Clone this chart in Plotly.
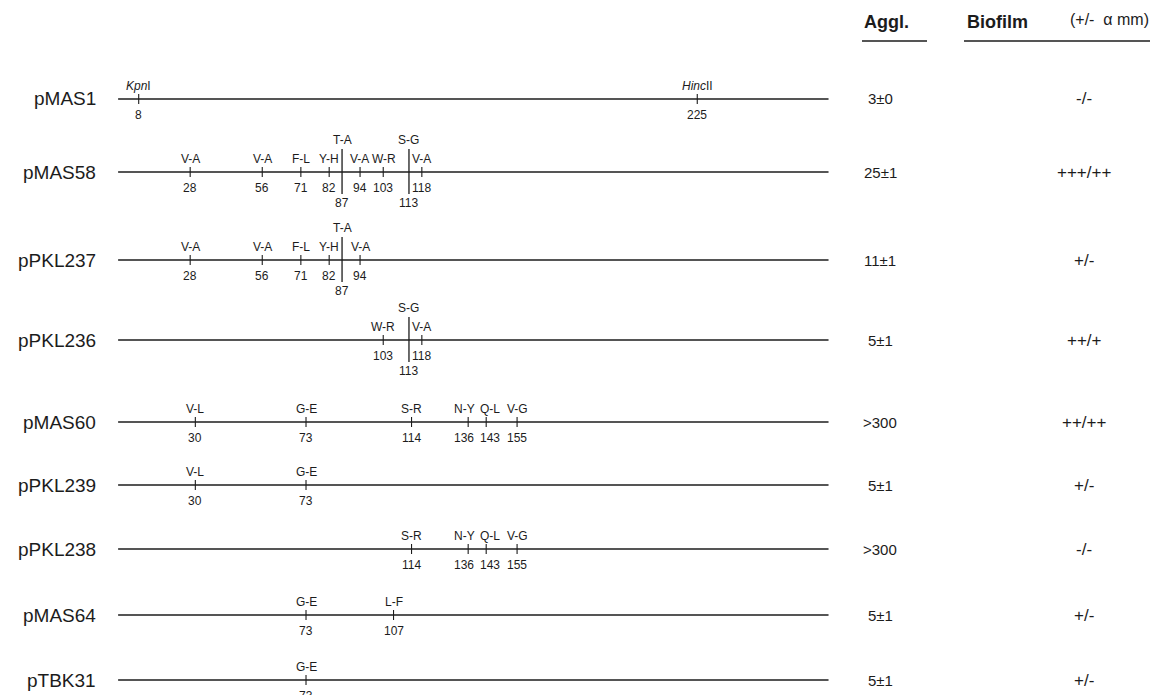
import plotly.graph_objects as go

# ---- data -------------------------------------------------------------
constructs = ["pMAS1", "pMAS58", "pPKL237", "pPKL236", "pMAS60",
              "pPKL239", "pPKL238", "pMAS64", "pTBK31"]

# amino-acid substitutions (change, residue position) per construct
pMAS58_changes = ["V-A", "V-A", "F-L", "Y-H", "T-A", "V-A", "W-R", "S-G", "V-A"]
pMAS58_sites = [28, 56, 71, 82, 87, 94, 103, 113, 118]
pPKL237_changes = ["V-A", "V-A", "F-L", "Y-H", "T-A", "V-A"]
pPKL237_sites = [28, 56, 71, 82, 87, 94]
pPKL236_changes = ["W-R", "S-G", "V-A"]
pPKL236_sites = [103, 113, 118]
pMAS60_changes = ["V-L", "G-E", "S-R", "N-Y", "Q-L", "V-G"]
pMAS60_sites = [30, 73, 114, 136, 143, 155]
pPKL239_changes = ["V-L", "G-E"]
pPKL239_sites = [30, 73]
pPKL238_changes = ["S-R", "N-Y", "Q-L", "V-G"]
pPKL238_sites = [114, 136, 143, 155]
pMAS64_changes = ["G-E", "L-F"]
pMAS64_sites = [73, 107]
pTBK31_changes = ["G-E"]
pTBK31_sites = [73]

# restriction sites on the parental construct
enzymes = ["<i>Kpn</i>I", "<i>Hinc</i>II"]
enzyme_sites = [8, 225]

# insert extent (residues)
insert_start = 0
insert_end = 276

aggl = ["3±0", "25±1", "11±1", "5±1", ">300", "5±1", ">300", "5±1", "5±1"]
biofilm = ["-/-", "+++/++", "+/-", "++/+", "++/++", "+/-", "-/-", "+/-", "+/-"]

mutations = [
    ([], []),
    (pMAS58_changes, pMAS58_sites),
    (pPKL237_changes, pPKL237_sites),
    (pPKL236_changes, pPKL236_sites),
    (pMAS60_changes, pMAS60_sites),
    (pPKL239_changes, pPKL239_sites),
    (pPKL238_changes, pPKL238_sites),
    (pMAS64_changes, pMAS64_sites),
    (pTBK31_changes, pTBK31_sites),
]
# substitutions whose labels are set on a raised second tier
raised = {87, 113}

# ---- layout -----------------------------------------------------------
W, H = 1154, 695
row_y = [99, 172, 260, 340, 422, 485, 549, 615, 680]
FONT = "Arial, Liberation Sans, sans-serif"
INK = "#1c1c1c"
SMALL = 12

# pixel = 138.7 + (residue - 8) * 2.574
scale = 2.574
x_lo = 8 - 138.7 / scale
x_hi = 8 + (W - 138.7) / scale

CHAR_W = {"-": 0.333, "1": 0.556, "I": 0.278, "W": 0.944, "M": 0.833,
          "N": 0.722, "Q": 0.778, "G": 0.778}


def text_w(s, size):
    s = s.replace("<i>", "").replace("</i>", "")
    return sum(CHAR_W.get(c, 0.64) for c in s) * size


def spread(xs, widths, gap=4.0):
    """Push neighbouring labels apart (data units) so they do not overlap."""
    xs = list(xs)
    order = sorted(range(len(xs)), key=lambda i: xs[i])
    for _ in range(30):
        moved = False
        for a, b in zip(order, order[1:]):
            need = ((widths[a] + widths[b]) / 2 + gap) / scale
            d = xs[b] - xs[a]
            if d < need - 1e-6:
                push = (need - d) / 2
                xs[a] -= push
                xs[b] += push
                moved = True
        if not moved:
            break
    return xs


def px(x):
    return x / W


def py(y):
    return 1 - y / H


fig = go.Figure()

# backbone lines
bx, by = [], []
for y in row_y:
    bx += [insert_start, insert_end, None]
    by += [y, y, None]
fig.add_trace(go.Scatter(x=bx, y=by, mode="lines",
                         line=dict(color=INK, width=1.3), hoverinfo="skip"))

annotations = []
sx, sy, tx, ty = [], [], [], []


def label(x, y, text, size=SMALL):
    annotations.append(dict(x=x, y=py(y), xref="x", yref="paper", text=text,
                            showarrow=False, xanchor="center",
                            yanchor="middle",
                            font=dict(family=FONT, size=size, color=INK)))


def draw_row(names, sites, y):
    low = [i for i, s in enumerate(sites) if s not in raised]
    high = [i for i, s in enumerate(sites) if s in raised]
    for i in low:
        sx.extend([sites[i], sites[i], None]); sy.extend([y - 5, y + 5, None])
    for i in high:
        tx.extend([sites[i], sites[i], None]); ty.extend([y - 23, y + 22, None])
    # lower tier labels, spaced so they stay legible
    top_x = spread([sites[i] for i in low],
                   [text_w(names[i], SMALL) for i in low])
    bot_x = spread([sites[i] for i in low],
                   [text_w(str(sites[i]), SMALL) for i in low])
    for k, i in enumerate(low):
        label(top_x[k], y - 13, names[i])
        label(bot_x[k], y + 16, str(sites[i]))
    for i in high:
        label(sites[i], y - 32, names[i])
        label(sites[i], y + 31, str(sites[i]))


draw_row(enzymes, enzyme_sites, row_y[0])
for (changes, sites), y in zip(mutations, row_y):
    if sites:
        draw_row(changes, sites, y)

fig.add_trace(go.Scatter(x=sx, y=sy, mode="lines",
                         line=dict(color=INK, width=1.1), hoverinfo="skip"))
fig.add_trace(go.Scatter(x=tx, y=ty, mode="lines",
                         line=dict(color=INK, width=1.3), hoverinfo="skip"))

for name, a, b, y in zip(constructs, aggl, biofilm, row_y):
    annotations.append(dict(x=px(98), y=py(y), xref="paper", yref="paper",
                            text=name, showarrow=False, xanchor="right",
                            yanchor="middle",
                            font=dict(family=FONT, size=19, color=INK)))
    annotations.append(dict(x=px(880), y=py(y), xref="paper", yref="paper",
                            text=a, showarrow=False, xanchor="center",
                            yanchor="middle",
                            font=dict(family=FONT, size=15, color=INK)))
    annotations.append(dict(x=px(1084), y=py(y), xref="paper", yref="paper",
                            text=b, showarrow=False, xanchor="center",
                            yanchor="middle",
                            font=dict(family=FONT, size=17, color=INK)))

# column headers
annotations.append(dict(x=px(862), y=py(22), xref="paper", yref="paper",
                        text="<b>Aggl.</b>", showarrow=False, xanchor="left",
                        yanchor="middle",
                        font=dict(family=FONT, size=18, color=INK)))
annotations.append(dict(x=px(965), y=py(22), xref="paper", yref="paper",
                        text="<b>Biofilm</b>", showarrow=False, xanchor="left",
                        yanchor="middle",
                        font=dict(family=FONT, size=18, color=INK)))
annotations.append(dict(x=px(1151), y=py(19), xref="paper", yref="paper",
                        text="(+/-\u00a0 α\u00a0mm)", showarrow=False,
                        xanchor="right", yanchor="middle",
                        font=dict(family=FONT, size=16, color=INK)))

shapes = [
    dict(type="line", xref="paper", yref="paper", x0=px(862), x1=px(927),
         y0=py(41), y1=py(41), line=dict(color=INK, width=1.3)),
    dict(type="line", xref="paper", yref="paper", x0=px(964), x1=px(1150),
         y0=py(41), y1=py(41), line=dict(color=INK, width=1.3)),
]

fig.update_layout(
    width=W, height=H, autosize=False,
    margin=dict(l=0, r=0, t=0, b=0, pad=0),
    paper_bgcolor="white", plot_bgcolor="white",
    showlegend=False,
    xaxis=dict(range=[x_lo, x_hi], visible=False, fixedrange=True),
    yaxis=dict(range=[H, 0], visible=False, fixedrange=True),
    annotations=annotations, shapes=shapes,
)

fig.write_html("out.html")
